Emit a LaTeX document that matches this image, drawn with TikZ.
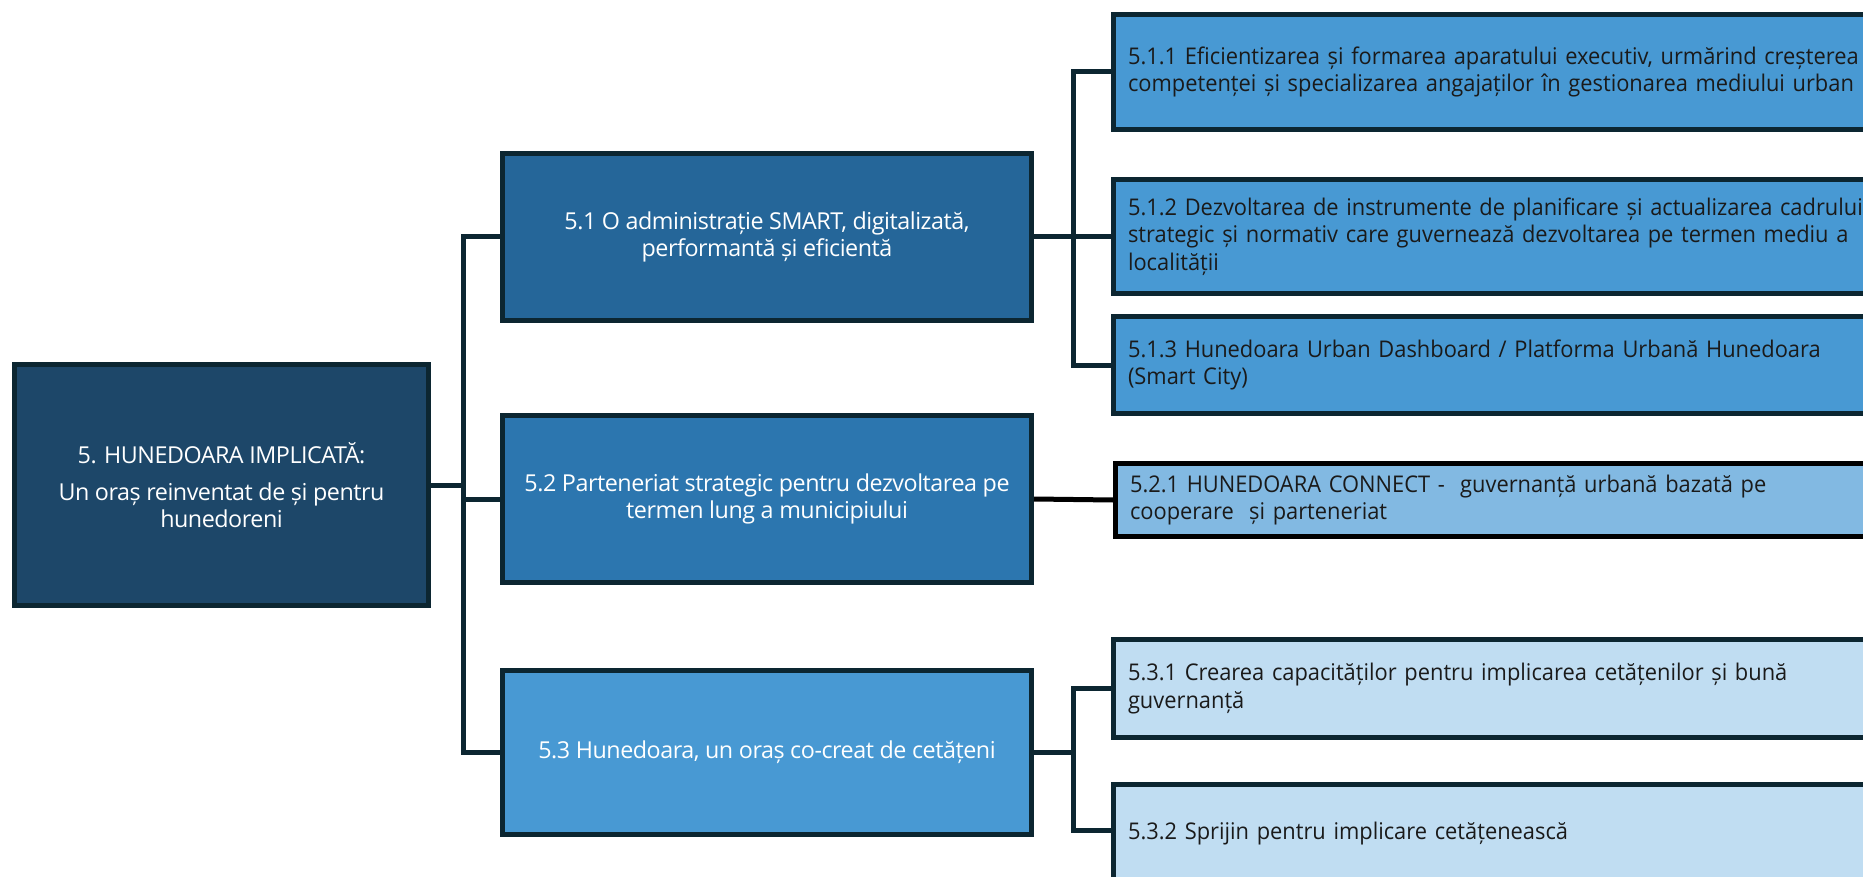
\documentclass[tikz,border=0pt]{standalone}
\usepackage{fontspec}
\setmainfont{Open Sans}
\newfontfamily\leaffont[FakeStretch=0.95]{Open Sans}
\newfontfamily\midfont[LetterSpace=-2]{Open Sans}
\definecolor{bord}{HTML}{0C2631}
\definecolor{crootf}{HTML}{1D4769}
\definecolor{cfa}{HTML}{256699}
\definecolor{cfb}{HTML}{2C76AF}
\definecolor{cfc}{HTML}{4899D3}
\definecolor{cla}{HTML}{4899D3}
\definecolor{clb}{HTML}{82B9E2}
\definecolor{clc}{HTML}{C0DDF2}
\definecolor{leaftext}{HTML}{1A1A1A}
\tikzset{
  boxbase/.style={draw=bord, line width=5pt, inner sep=0pt, align=center, text=white},
  rootbox/.style={boxbase, fill=crootf, minimum width=414pt, minimum height=241pt,
    font=\midfont\fontsize{23.3}{27}\selectfont},
  midbox/.style={boxbase, minimum width=529pt, minimum height=167pt,
    font=\midfont\fontsize{23.3}{27}\selectfont},
  leafbox/.style={draw=bord, line width=5pt, anchor=west, text width=740pt,
    inner xsep=14.5pt, inner ysep=0pt, align=left, text=leaftext,
    font=\leaffont\fontsize{23}{27.5}\selectfont},
  conn/.style={draw=bord, line width=5pt}
}
\begin{document}
\begin{tikzpicture}[x=1pt,y=-1pt]
\useasboundingbox (0,0) rectangle (1863,877);
\node[rootbox] (root) at (221.5,485) {5. HUNEDOARA IMPLICATĂ:\\[10pt]Un oraș reinventat de și pentru\\hunedoreni};
\node[midbox, fill=cfa] (s51) at (767,237) {5.1 O administrație SMART, digitalizată,\\performantă și eficientă};
\node[midbox, fill=cfb] (s52) at (767,499) {5.2 Parteneriat strategic pentru dezvoltarea pe\\termen lung a municipiului};
\node[midbox, fill=cfc, minimum height=164pt] (s53) at (767,752) {5.3 Hunedoara, un oraș co-creat de cetățeni};

\node[leafbox, fill=cla, minimum height=115pt] (l511) at (1111,72) {5.1.1 Eficientizarea și formarea aparatului executiv, urmărind creșterea\\competenței și specializarea angajaților în gestionarea mediului urban};
\node[leafbox, fill=cla, minimum height=114pt] (l512) at (1111,236.5) {5.1.2 Dezvoltarea de instrumente de planificare și actualizarea cadrului\\strategic și normativ care guvernează dezvoltarea pe termen mediu a\\localității};
\node[leafbox, fill=cla, minimum height=97pt] (l513) at (1111,365) {5.1.3 Hunedoara Urban Dashboard / Platforma Urbană Hunedoara\\(Smart City)};
\node[leafbox, fill=clb, draw=black, minimum height=73pt] (l521) at (1113,500) {5.2.1 HUNEDOARA CONNECT -~ guvernanță urbană bazată pe\\cooperare~ și parteneriat};
\node[leafbox, fill=clc, minimum height=98pt] (l531) at (1111,688.5) {5.3.1 Crearea capacităților pentru implicarea cetățenilor și bună\\guvernanță};
\node[leafbox, fill=clc, minimum height=99pt] (l532) at (1111,834) {\raisebox{4pt}{5.3.2 Sprijin pentru implicare cetățenească}};

\coordinate (bL) at (463,485);
\draw[conn] (root.east) -- (bL);
\draw[conn] (s51.west) -| (bL) |- (s53.west);
\draw[conn] (bL |- s52.west) -- (s52.west);
\coordinate (bR1) at (1073,237);
\draw[conn] (s51.east) -- (bR1);
\draw[conn] (l511.west) -| (bR1) |- (l513.west);
\draw[conn] (bR1 |- l512.west) -- (l512.west);
\draw[conn, draw=black] (s52.east) -- (l521.west);
\coordinate (bR3) at (1073,752);
\coordinate (bR3b) at (1073,830);
\draw[conn] (s53.east) -- (bR3);
\draw[conn] (l531.west) -| (bR3b);
\draw[conn] (bR3) -- (bR3b) -- (bR3b -| l532.west);
\end{tikzpicture}
\end{document}
